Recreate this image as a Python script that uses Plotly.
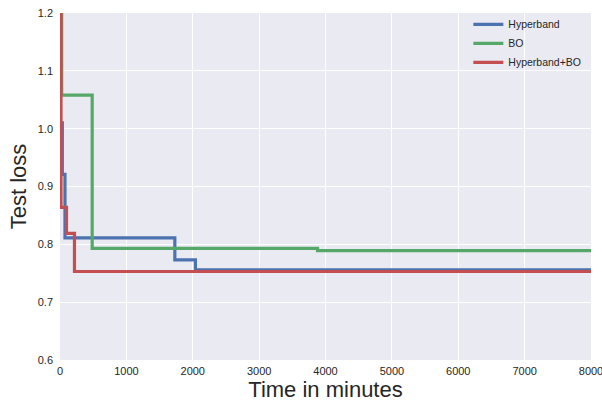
import plotly.graph_objects as go

# Data
hb_t = [0, 35, 75, 1730, 2040, 8000]
hb_y = [1.01, 0.921, 0.811, 0.773, 0.756, 0.756]

bo_t = [0, 25, 485, 3880, 8000]
bo_y = [1.25, 1.058, 0.793, 0.789, 0.789]

hbbo_t = [0, 15, 98, 218, 8000]
hbbo_y = [1.25, 0.864, 0.819, 0.753, 0.753]

x_ticks = [0, 1000, 2000, 3000, 4000, 5000, 6000, 7000, 8000]
y_ticks = [0.6, 0.7, 0.8, 0.9, 1.0, 1.1, 1.2]

fig = go.Figure()
for name, t, y, c in [("Hyperband", hb_t, hb_y, "#4C72B0"),
                      ("BO", bo_t, bo_y, "#55A868"),
                      ("Hyperband+BO", hbbo_t, hbbo_y, "#C44E52")]:
    fig.add_trace(go.Scatter(x=t, y=y, name=name, mode="lines",
                             line=dict(color=c, width=3.2, shape="hv")))

font = "Liberation Sans, Arial, sans-serif"
fig.update_layout(
    width=602, height=402,
    margin=dict(l=60, r=11, t=10, b=42),
    paper_bgcolor="white", plot_bgcolor="#EAEAF2",
    font=dict(family=font, color="#262626"),
    showlegend=True,
    legend=dict(x=0.769, y=1.009, xanchor="left", yanchor="top",
                bgcolor="rgba(0,0,0,0)", font=dict(size=10.5, color="#262626"),
                tracegroupgap=0, itemwidth=30),
    xaxis=dict(range=[0, 8000], tickvals=x_ticks,
               ticktext=[str(v) for v in x_ticks],
               showgrid=True, gridcolor="white", gridwidth=1,
               zeroline=False, showline=False, ticks="", automargin=False,
               ticklabelstandoff=3, ticklabeloverflow="allow",
               tickfont=dict(size=11, color="#262626"),
               title=dict(text="Time in minutes", font=dict(size=22), standoff=5)),
    yaxis=dict(range=[0.6, 1.2], tickvals=y_ticks,
               ticktext=["%.1f" % v for v in y_ticks],
               showgrid=True, gridcolor="white", gridwidth=1,
               zeroline=False, showline=False, ticks="", automargin=False,
               ticklabelstandoff=6, ticklabeloverflow="allow",
               tickfont=dict(size=11, color="#262626"),
               title=dict(text="Test loss", font=dict(size=22), standoff=5)),
)

fig.write_html("out.html", config={"displayModeBar": False},
               post_script="document.body.style.margin='0';")
